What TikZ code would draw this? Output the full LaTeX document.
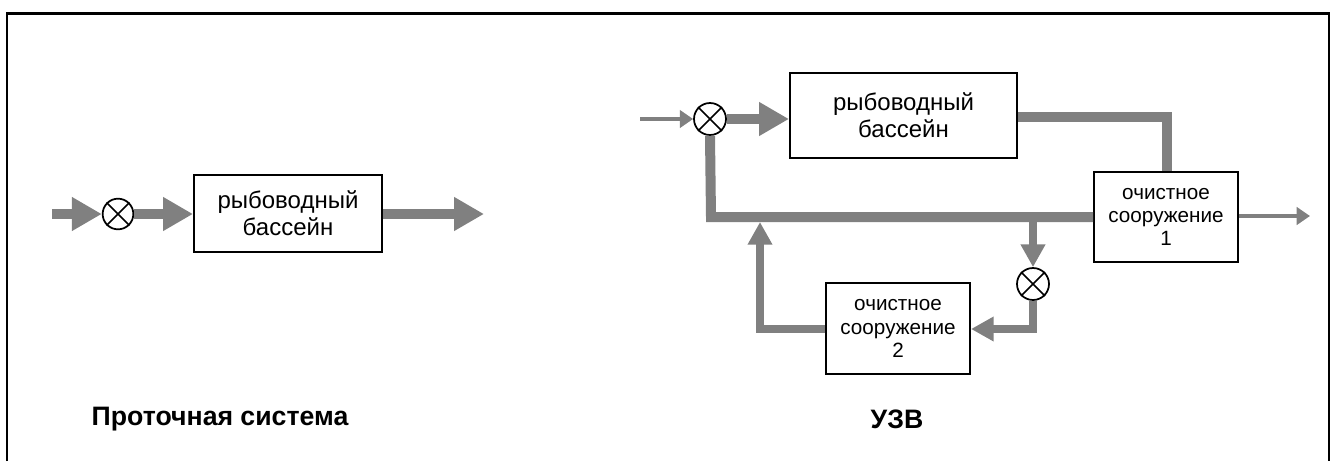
\documentclass[tikz,border=0pt]{standalone}
\usepackage{fontspec}
\setmainfont{Liberation Sans}
\usetikzlibrary{arrows.meta}
\definecolor{flow}{RGB}{128,128,128}
\tikzset{
  unit/.style={draw=black, line width=1.5pt, fill=white, align=center, inner sep=0pt},
  bigtext/.style={font=\fontsize{18}{20}\selectfont},
  smalltext/.style={font=\fontsize{15.5}{17.5}\selectfont},
  mixer/.style={circle, draw=black, line width=1.3pt, minimum size=23pt, inner sep=0pt, fill=white},
  mainflow/.style={draw=flow, line width=7.5pt, line join=miter,
    -{Triangle[length=22.5pt, width=24pt]}},
  mainpipe/.style={draw=flow, line width=7.5pt, line join=miter},
  loopflow/.style={draw=flow, line width=6pt, line join=miter,
    -{Triangle[length=17pt, width=17.5pt]}},
  thinflow/.style={draw=flow, line width=2.6pt,
    -{Triangle[length=10pt, width=13pt]}},
  caption/.style={font=\bfseries\fontsize{20}{23}\selectfont},
}
\newcommand{\crossmark}[1]{%
  \draw[line width=1.3pt] (#1.north west) -- (#1.south east)
                          (#1.north east) -- (#1.south west);}
\begin{document}
\begin{tikzpicture}[x=0.75pt, y=-0.75pt]
\useasboundingbox (0,0) rectangle (1332,461);
% outer frame, open at the bottom
\draw[line width=1.6pt] (7,461) -- (7,13.5) -- (1329,13.5) -- (1329,461);

% ---- flow-through system ----
\node[unit, bigtext, minimum width=141pt, minimum height=57.75pt] (tankA) at (288,213) {рыбоводный\\бассейн};
\node[mixer] (mixA) at (118,214) {};
\crossmark{mixA}
\coordinate (inA) at (52,214);
\coordinate (outA) at (484,214);
\draw[mainflow] (inA) -- (mixA.west);
\draw[mainflow] (mixA.east) -- (mixA -| tankA.west);
\draw[mainflow] (mixA -| tankA.east) -- (outA);
\node[caption] (capA) at (220,419) {Проточная система};

% ---- recirculating system ----
\node[unit, bigtext, minimum width=170.25pt, minimum height=63.75pt] (tankB) at (903.5,115.5) {рыбоводный\\бассейн};
\node[unit, smalltext, minimum width=108pt, minimum height=67.5pt] (clean1) at (1166,217) {очистное\\сооружение\\1};
\node[unit, smalltext, minimum width=108pt, minimum height=68.25pt] (clean2) at (898,328.5) {очистное\\сооружение\\2};
\node[mixer, minimum size=24pt] (mixB) at (710,119) {};
\crossmark{mixB}
\node[mixer, minimum size=24pt] (mixC) at (1033,284) {};
\crossmark{mixC}

\coordinate (inB) at (640,119);
\coordinate (outB) at (1310,216);
\coordinate (retL) at (711,217);
\coordinate (split) at (1033,217);
\coordinate (joinUp) at (760,222);

\draw[thinflow] (inB) -- (mixB.west);
\draw[mainflow] (mixB.east) -- (mixB -| tankB.west);
\draw[mainpipe] (tankB.east |- 0,117) -- (1167,117) -- (clean1.north -| 1167,0);
\draw[thinflow] (clean1.east |- outB) -- (outB);
\draw[mainpipe] (clean1.west |- retL) -- (retL) -- (mixB.south);
\draw[loopflow] (split) -- (mixC.north);
\draw[loopflow] (mixC.south) -- (1033,329) -- (clean2.east |- 0,329);
\draw[loopflow] (clean2.west |- 0,329) -- (760,329) -- (joinUp);
\node[caption] (capB) at (897,419) {УЗВ};
\end{tikzpicture}
\end{document}
